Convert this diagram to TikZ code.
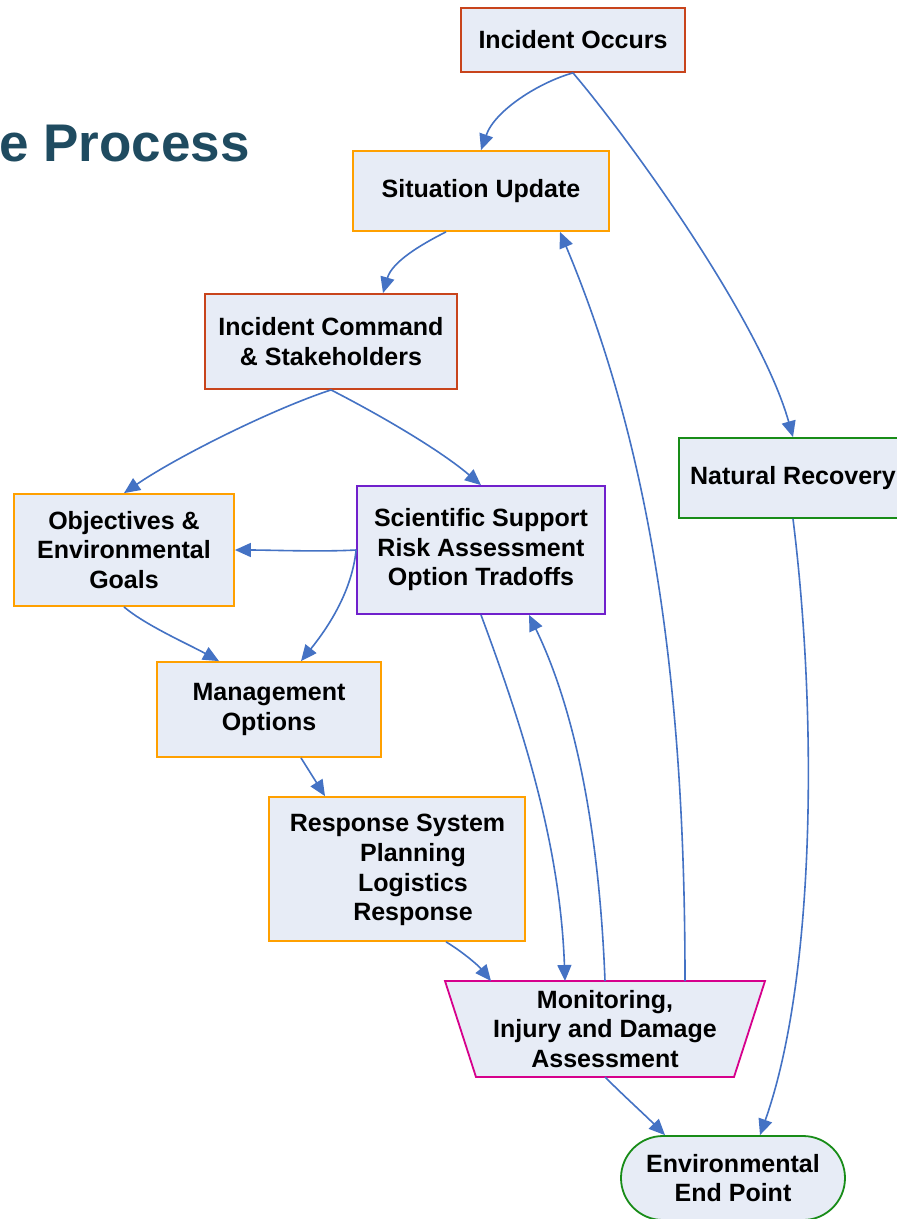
\documentclass[tikz,border=0pt]{standalone}
\usepackage{fontspec}
\setmainfont{Liberation Sans}
\usetikzlibrary{arrows.meta,calc}
\definecolor{boxfill}{RGB}{231,236,246}
\definecolor{redb}{RGB}{200,68,28}
\definecolor{orangeb}{RGB}{255,160,0}
\definecolor{purpleb}{RGB}{112,32,204}
\definecolor{magentab}{RGB}{214,0,140}
\definecolor{greenb}{RGB}{24,140,24}
\definecolor{arrowblue}{RGB}{68,114,196}
\definecolor{titlecol}{RGB}{31,75,96}
\begin{document}
\begin{tikzpicture}[x=1pt,y=-1pt,
  box/.style={draw,line width=1.8pt,fill=boxfill,inner sep=0pt,
    font=\fontsize{25}{29.5}\selectfont\bfseries,align=center},
  txt/.style={inner sep=0pt,font=\fontsize{25}{29.5}\selectfont\bfseries,align=center},
  conn/.style={draw=arrowblue,line width=1.6pt,-{Triangle[length=16pt,width=14pt]}}]
\path[use as bounding box] (0,0) rectangle (897,1219);
\clip (0,0) rectangle (897,1219);
\fill[white] (0,0) rectangle (897,1219);
% title
\node[anchor=base east,inner sep=0pt,text=titlecol,font=\fontsize{53}{60}\selectfont\bfseries] (title) at (250,161) {e Process};
% boxes
\node[box,draw=redb,minimum width=224pt,minimum height=64pt] (io) at (573,40) {Incident Occurs};
\node[box,draw=orangeb,minimum width=256pt,minimum height=80pt] (su) at (481,191) {Situation Update};
\node[box,draw=redb,minimum width=252pt,minimum height=95pt] (ic) at (331,341.5) {Incident Command\\\& Stakeholders};
\node[box,draw=orangeb,minimum width=220pt,minimum height=112pt] (obj) at (124,550) {Objectives \&\\Environmental\\Goals};
\node[box,draw=purpleb,minimum width=248pt,minimum height=128pt] (sci) at (481,550) {Scientific Support\\Risk Assessment\\Option Tradoffs};
\node[box,draw=orangeb,minimum width=224pt,minimum height=95pt] (mgmt) at (269,709.5) {Management\\Options};
\node[box,draw=orangeb,minimum width=256pt,minimum height=144pt] (resp) at (397,869) {};
\node[txt] (resp1) at (397.5,825) {Response System};
\node[txt] (resp2) at (413,885) {Planning\\Logistics\\Response};
\node[box,draw=greenb,minimum width=228pt,minimum height=80pt] (nr) at (793,478) {Natural Recovery};
\node[box,draw=greenb,minimum width=224pt,minimum height=84pt,rounded corners=42pt] (ep) at (733,1178) {Environmental\\End Point};
% trapezoid
\draw[draw=magentab,line width=1.8pt,fill=boxfill] (445,981) -- (765,981) -- (734,1077) -- (476,1077) -- cycle;
\node[txt] (mon) at (605,1029) {Monitoring,\\Injury and Damage\\Assessment};
\coordinate (m1) at (491,981);
\coordinate (m2) at (565,981);
\coordinate (m3) at (605,981);
\coordinate (m4) at (685,981);
\coordinate (mb) at (605,1077);
% connectors
\draw[conn] (io.south) .. controls (540,82) and (495,110) .. (su.north);
\draw[conn] (io.south) .. controls (630,140) and (760,320) .. (nr.north);
\draw[conn] ([xshift=-35pt]su.south) .. controls (420,245) and (392,262) .. ([xshift=52pt]ic.north);
\draw[conn] (ic.south) .. controls (270,410) and (175,458) .. (obj.north);
\draw[conn] (ic.south) .. controls (380,415) and (440,450) .. (sci.north);
\draw[conn] (sci.west) .. controls (320,552) and (270,550) .. (obj.east);
\draw[conn] (sci.west) .. controls (352,590) and (330,625) .. ([xshift=32pt]mgmt.north);
\draw[conn] (obj.south) .. controls (145,625) and (190,645) .. ([xshift=-50pt]mgmt.north);
\draw[conn] ([xshift=32pt]mgmt.south) -- ([xshift=-72pt]resp.north);
\draw[conn] ([xshift=49pt]resp.south) .. controls (460,950) and (478,965) .. (m1);
\draw[conn] (sci.south) .. controls (520,720) and (560,840) .. (m2);
\draw[conn] (m3) .. controls (600,850) and (580,720) .. ([xshift=48pt]sci.south);
\draw[conn] (m4) .. controls (685,720) and (660,470) .. ([xshift=79pt]su.south);
\draw[conn] (mb) .. controls (625,1097) and (645,1115) .. ([xshift=-68pt]ep.north);
\draw[conn] (nr.south) .. controls (818,720) and (815,980) .. ([xshift=27pt]ep.north);
\end{tikzpicture}
\end{document}
